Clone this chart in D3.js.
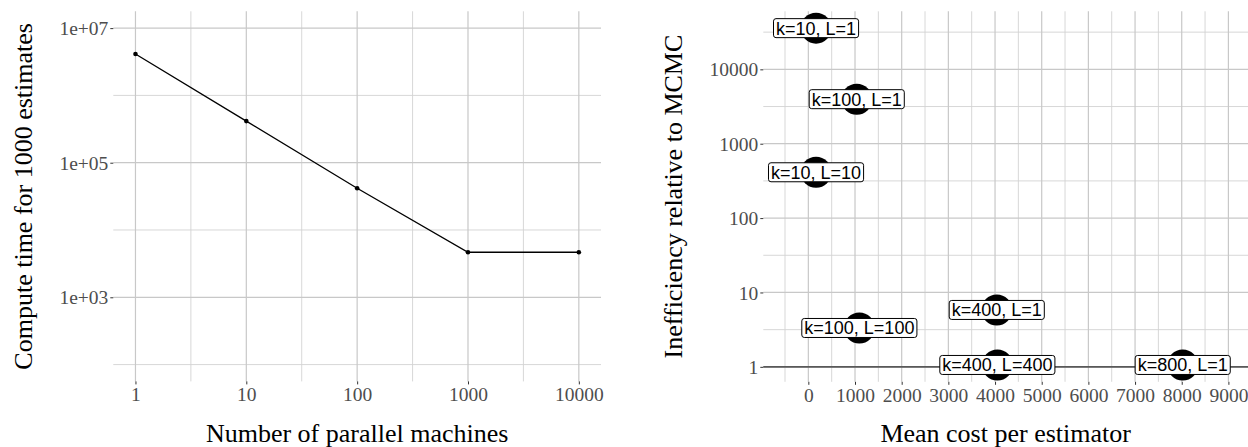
<!DOCTYPE html>
<html>
<head>
<meta charset="utf-8">
<script src="https://cdn.jsdelivr.net/npm/d3@7"></script>
<style>
  body { margin: 0; background: #ffffff; }
  svg { display: block; }
</style>
</head>
<body>
<script>
"use strict";

// left panel: compute time vs number of machines
var machines = [1, 10, 100, 1000, 10000];
var computeTime = [4.12e6, 4.15e5, 4.17e4, 4.67e3, 4.67e3];
var leftXBreaks = [1, 10, 100, 1000, 10000];
var leftYBreaks = [1e3, 1e5, 1e7];
var leftYLabels = ["1e+03", "1e+05", "1e+07"];
var leftYLimits = [1e2, 1e7];

// right panel: inefficiency vs mean cost
var settings = ["k=10, L=1", "k=100, L=1", "k=10, L=10", "k=100, L=100",
  "k=400, L=1", "k=400, L=400", "k=800, L=1"];
var meanCost = [165, 1037, 165, 1093, 4037, 4050, 8021];
var inefficiency = [35800, 3970, 413, 3.33, 5.82, 1.06, 1.06];
var rightXBreaks = [0, 1000, 2000, 3000, 4000, 5000, 6000, 7000, 8000, 9000];
var rightXLimits = [-965, 9420];
var rightYBreaks = [1, 10, 100, 1000, 10000];

var serif = "'Liberation Serif', 'Times New Roman', serif";
var sans = "'Liberation Sans', Arial, sans-serif";

function expandLog(lo, hi) {
  var a = Math.log10(lo), b = Math.log10(hi), d = (b - a) * 0.05;
  return [Math.pow(10, a - d), Math.pow(10, b + d)];
}

// halfway between breaks in log space, one step past each end too
function logMinor(breaks) {
  var out = [];
  var step = Math.log10(breaks[1]) - Math.log10(breaks[0]);
  var l = breaks.map(function (b) { return Math.log10(b); });
  l = [l[0] - step].concat(l).concat([l[l.length - 1] + step]);
  for (var i = 0; i < l.length - 1; i++) {
    out.push(Math.pow(10, (l[i] + l[i + 1]) / 2));
  }
  return out;
}

function inside(scale) {
  var r = scale.range(), lo = Math.min(r[0], r[1]), hi = Math.max(r[0], r[1]);
  return function (d) {
    var p = scale(d);
    return p >= lo - 0.5 && p <= hi + 0.5;
  };
}

function drawGrid(g, x, y, xMajor, xMinor, yMajor, yMinor) {
  var xr = x.range(), yr = y.range();
  g.selectAll(".vminor").data(xMinor.filter(inside(x))).enter().append("line")
    .attr("x1", function (d) { return x(d); }).attr("x2", function (d) { return x(d); })
    .attr("y1", yr[0]).attr("y2", yr[1])
    .attr("stroke", "#d2d2d2").attr("stroke-width", 0.9);
  g.selectAll(".hminor").data(yMinor.filter(inside(y))).enter().append("line")
    .attr("y1", function (d) { return y(d); }).attr("y2", function (d) { return y(d); })
    .attr("x1", xr[0]).attr("x2", xr[1])
    .attr("stroke", "#d2d2d2").attr("stroke-width", 0.9);
  g.selectAll(".vmajor").data(xMajor.filter(inside(x))).enter().append("line")
    .attr("x1", function (d) { return x(d); }).attr("x2", function (d) { return x(d); })
    .attr("y1", yr[0]).attr("y2", yr[1])
    .attr("stroke", "#c8c8c8").attr("stroke-width", 1.2);
  g.selectAll(".hmajor").data(yMajor.filter(inside(y))).enter().append("line")
    .attr("y1", function (d) { return y(d); }).attr("y2", function (d) { return y(d); })
    .attr("x1", xr[0]).attr("x2", xr[1])
    .attr("stroke", "#c8c8c8").attr("stroke-width", 1.2);
}

function drawAxes(svg, x, y, xBreaks, xLabels, yBreaks, yLabels) {
  var xAxis = d3.axisBottom(x).tickValues(xBreaks)
    .tickFormat(function (d, i) { return xLabels[i]; })
    .tickSize(3).tickPadding(4);
  var yAxis = d3.axisLeft(y).tickValues(yBreaks)
    .tickFormat(function (d, i) { return yLabels[i]; })
    .tickSize(3).tickPadding(2);

  var yBottom = y.range()[0];
  var xLeft = x.range()[0];

  var gx = svg.append("g").attr("transform", "translate(0," + yBottom + ")").call(xAxis);
  var gy = svg.append("g").attr("transform", "translate(" + xLeft + ",0)").call(yAxis);

  [gx, gy].forEach(function (g) {
    g.select(".domain").remove();
    g.selectAll(".tick line").attr("stroke", "#333333").attr("stroke-width", 1);
    g.selectAll(".tick text")
      .attr("font-family", serif)
      .attr("font-size", "19.5px")
      .attr("fill", "#4d4d4d");
  });
  gx.selectAll(".tick text").attr("dy", "0.71em").attr("y", 6);
  gy.selectAll(".tick text").attr("dy", "0.34em");
}

function title(svg, text, x, y, rotate) {
  svg.append("text")
    .attr("transform", "translate(" + x + "," + y + ")" + (rotate ? " rotate(-90)" : ""))
    .attr("text-anchor", "middle")
    .attr("font-family", serif)
    .attr("font-size", "26px")
    .attr("fill", "#000000")
    .text(text);
}

function init() {
  var w = 1248;
  var h = 447;

  var svg = d3.select("body")
    .append("svg")
    .attr("width", w)
    .attr("height", h);

  // ---------- left panel ----------
  var lx = d3.scaleLog()
    .domain(expandLog(machines[0], machines[machines.length - 1]))
    .range([113.3, 601]);
  var ly = d3.scaleLog()
    .domain(expandLog(leftYLimits[0], leftYLimits[1]))
    .range([381.4, 11.3]);

  var lg = svg.append("g");
  drawGrid(lg, lx, ly, leftXBreaks, logMinor(leftXBreaks), leftYBreaks, logMinor(leftYBreaks));

  var pts = machines.map(function (m, i) { return [m, computeTime[i]]; });

  lg.append("path")
    .datum(pts)
    .attr("fill", "none")
    .attr("stroke", "#000000")
    .attr("stroke-width", 1.3)
    .attr("d", d3.line()
      .x(function (d) { return lx(d[0]); })
      .y(function (d) { return ly(d[1]); }));

  lg.selectAll("circle")
    .data(pts)
    .enter()
    .append("circle")
    .attr("cx", function (d) { return lx(d[0]); })
    .attr("cy", function (d) { return ly(d[1]); })
    .attr("r", 2.3)
    .attr("fill", "#000000");

  drawAxes(svg, lx, ly, leftXBreaks, leftXBreaks.map(String), leftYBreaks, leftYLabels);
  title(svg, "Number of parallel machines", (113.3 + 601) / 2, 442, false);
  title(svg, "Compute time for 1000 estimates", 31.7, (11.3 + 381.4) / 2, true);

  // ---------- right panel ----------
  var rx = d3.scaleLinear()
    .domain(rightXLimits)
    .range([763.3, 1248]);
  var ry = d3.scaleLog()
    .domain(expandLog(d3.min(inefficiency), d3.max(inefficiency)))
    .range([381.8, 11.3]);

  var rxMinor = rightXBreaks.map(function (d) { return d - 500; }).concat([9500]);
  var rg = svg.append("g");
  drawGrid(rg, rx, ry, rightXBreaks, rxMinor, rightYBreaks, logMinor(rightYBreaks));

  rg.append("line")
    .attr("x1", rx.range()[0]).attr("x2", rx.range()[1])
    .attr("y1", ry(1)).attr("y2", ry(1))
    .attr("stroke", "#595959")
    .attr("stroke-width", 1.6);

  var rows = settings.map(function (s, i) {
    return { label: s, cost: meanCost[i], ineff: inefficiency[i] };
  });

  rg.selectAll("circle")
    .data(rows)
    .enter()
    .append("circle")
    .attr("cx", function (d) { return rx(d.cost); })
    .attr("cy", function (d) { return ry(d.ineff); })
    .attr("r", 15.5)
    .attr("fill", "#000000");

  var labels = rg.selectAll(".lab")
    .data(rows)
    .enter()
    .append("g")
    .attr("class", "lab")
    .attr("transform", function (d) {
      return "translate(" + rx(d.cost) + "," + ry(d.ineff) + ")";
    });

  labels.append("rect");
  labels.append("text")
    .attr("text-anchor", "middle")
    .attr("y", 6.5)
    .attr("font-family", sans)
    .attr("font-size", "18px")
    .attr("fill", "#000000")
    .text(function (d) { return d.label; });

  labels.each(function () {
    var g = d3.select(this);
    var tw = g.select("text").node().getComputedTextLength();
    g.select("rect")
      .attr("x", -tw / 2 - 2.5)
      .attr("y", -9.5)
      .attr("width", tw + 5)
      .attr("height", 19)
      .attr("rx", 2.5)
      .attr("fill", "#ffffff")
      .attr("stroke", "#000000")
      .attr("stroke-width", 1);
  });

  drawAxes(svg, rx, ry, rightXBreaks, rightXBreaks.map(String), rightYBreaks, rightYBreaks.map(String));
  title(svg, "Mean cost per estimator", (763.3 + 1248) / 2, 442, false);
  title(svg, "Inefficiency relative to MCMC", 682, (11.3 + 381.8) / 2, true);
}

window.onload = init;
</script>
</body>
</html>
